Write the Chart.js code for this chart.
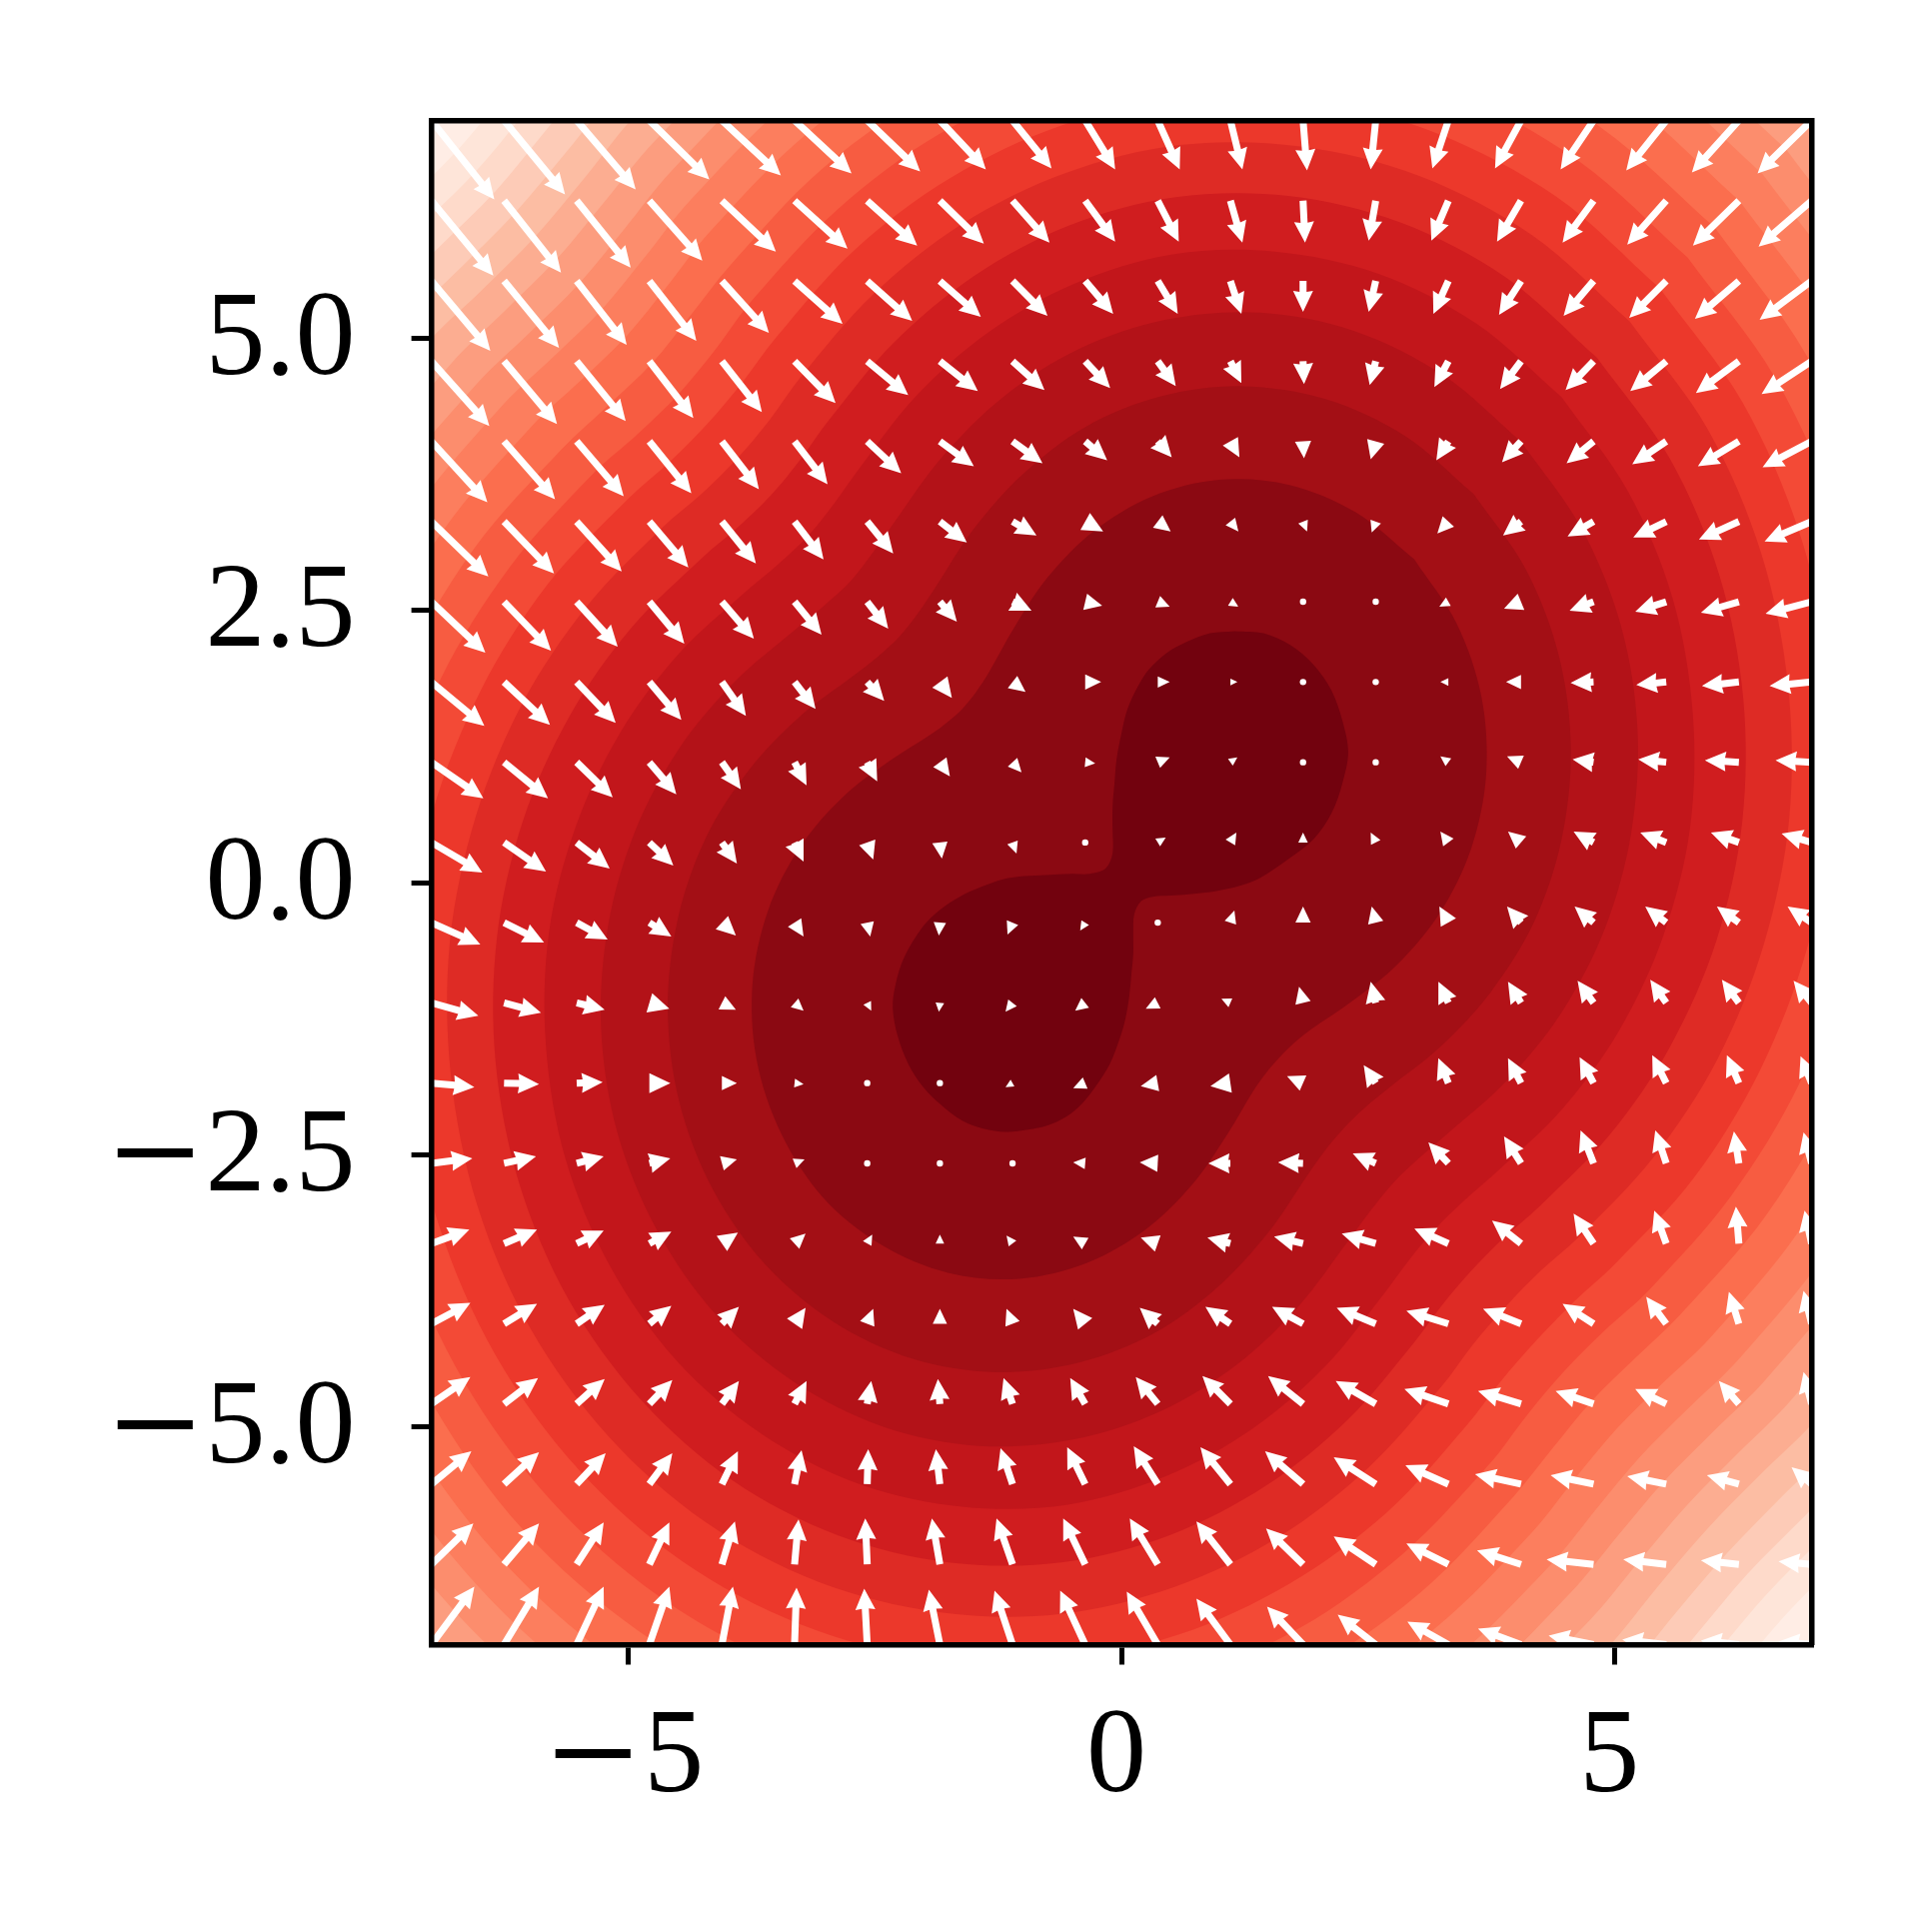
<!DOCTYPE html>
<html>
<head>
<meta charset="utf-8">
<style>
@font-face{font-family:"TickMinus";src:local("DejaVu Serif");unicode-range:U+2212}
html,body{margin:0;padding:0;background:#fff}
canvas{display:block}
</style>
<script src="https://cdn.jsdelivr.net/npm/chart.js@4/dist/chart.umd.js"></script>
</head>
<body>
<canvas id="c" width="1933" height="1933"></canvas>
<script>
const xTickValues = [-5, 0, 5];
const yTickValues = [-5, -2.5, 0, 2.5, 5];
const xTickLabels = ["\u22125", "0", "5"];
const yTickLabels = ["\u22125.0", "\u22122.5", "0.0", "2.5", "5.0"];

// quiver grid, left to right and top to bottom
const gridX = [-7,-6.263,-5.526,-4.789,-4.053,-3.316,-2.579,-1.842,-1.105,-0.368,0.368,1.105,1.842,2.579,3.316,4.053,4.789,5.526,6.263,7];
const gridY = [7,6.263,5.526,4.789,4.053,3.316,2.579,1.842,1.105,0.368,-0.368,-1.105,-1.842,-2.579,-3.316,-4.053,-4.789,-5.526,-6.263,-7];

const arrowU = [
[63,61,59,60,59,57,53,46,39,30,22,12,4,-5,-16,-26,-33,-40,-47,-54],
[62,57,54,53,54,53,50,44,37,30,21,12,2,-7,-17,-24,-31,-39,-46,-53],
[59,55,50,47,47,48,45,41,35,28,20,11,0,-7,-15,-22,-30,-37,-44,-52],
[58,53,49,44,40,41,41,38,32,25,18,11,1,-6,-14,-21,-28,-36,-43,-50],
[56,51,47,42,37,33,34,34,30,22,14,9,1,-5,-12,-19,-27,-34,-41,-49],
[57,50,45,39,34,29,26,27,24,18,13,8,4,-4,-11,-18,-26,-33,-40,-47],
[54,47,41,35,32,27,21,17,19,17,12,8,0,0,-9,-17,-24,-31,-38,-46],
[53,46,39,32,24,21,17,12,13,16,12,7,0,0,-8,-15,-23,-30,-37,-42],
[52,44,36,27,19,12,10,10,9,10,12,7,0,0,-8,-14,-21,-28,-34,-36],
[51,42,33,24,15,9,6,2,4,0,8,6,0,-5,-8,-13,-20,-26,-28,-30],
[49,40,31,22,14,9,3,-1,-5,-5,0,4,0,-4,-9,-14,-19,-21,-22,-24],
[47,37,28,20,14,9,4,-1,-7,-10,-12,-9,-4,-5,-10,-13,-16,-16,-17,-18],
[43,35,26,21,15,9,0,0,-7,-12,-17,-20,-16,-12,-10,-13,-14,-14,-12,-11],
[41,32,27,21,15,10,0,0,-6,-12,-18,-22,-25,-23,-20,-17,-13,-11,-5,-8],
[38,33,27,22,16,11,5,0,-6,-12,-17,-23,-29,-34,-34,-29,-20,-12,-3,-7],
[39,33,28,22,17,11,6,0,-6,-12,-18,-25,-31,-39,-42,-38,-31,-20,-10,-8],
[39,34,28,23,17,12,4,-2,-9,-15,-22,-28,-35,-40,-44,-43,-38,-31,-20,-8],
[40,35,29,23,16,7,1,-4,-12,-18,-24,-30,-38,-42,-43,-46,-43,-39,-32,-20],
[42,35,27,20,13,4,-2,-8,-16,-22,-28,-34,-37,-42,-42,-44,-47,-43,-38,-33],
[43,35,27,20,11,2,-3,-11,-18,-25,-31,-34,-36,-38,-41,-43,-45,-44,-38,-33]
];
const arrowV = [
[-79,-74,-69,-59,-55,-53,-51,-49,-48,-49,-49,-49,-50,-49,-48,-48,-49,-50,-52,-53],
[-75,-72,-67,-60,-51,-48,-45,-43,-42,-41,-41,-42,-42,-40,-40,-41,-42,-44,-45,-46],
[-70,-67,-64,-60,-52,-43,-40,-36,-35,-33,-33,-33,-31,-31,-33,-34,-35,-37,-38,-39],
[-65,-63,-60,-57,-51,-42,-34,-30,-29,-27,-25,-22,-23,-24,-26,-28,-29,-30,-32,-33],
[-61,-58,-55,-52,-48,-43,-32,-25,-22,-19,-16,-16,-17,-18,-19,-21,-22,-23,-25,-26],
[-55,-52,-50,-46,-42,-38,-32,-21,-14,-10,-10,-10,-10,-11,-12,-14,-15,-16,-18,-20],
[-51,-49,-45,-42,-37,-33,-27,-20,-9,-4,-5,-5,0,0,-5,-7,-9,-10,-11,-12],
[-44,-43,-41,-38,-34,-27,-19,-16,-10,0,0,0,0,0,0,0,-1,-3,-4,-4],
[-36,-36,-35,-32,-27,-23,-19,-14,-10,-1,5,5,0,0,6,6,3,3,2,2],
[-30,-29,-26,-23,-21,-19,-17,-16,-11,0,5,10,10,10,11,11,11,10,10,9],
[-22,-20,-17,-14,-13,-14,-14,-13,-12,-8,0,12,16,16,16,16,16,16,16,16],
[-13,-10,-7,-6,-7,-8,-8,-9,-9,-8,-6,4,16,21,21,21,22,23,23,22],
[-4,-1,1,0,0,-1,0,0,-4,-5,-3,-3,7,18,25,25,26,28,28,27],
[5,7,7,5,4,4,0,0,2,1,1,0,1,10,21,27,33,33,32,31],
[14,14,13,12,11,10,9,9,8,7,6,6,7,10,15,23,30,33,37,33],
[21,20,19,18,17,16,15,15,15,15,16,17,17,16,13,15,20,27,32,33],
[27,26,25,24,23,23,23,25,26,26,27,28,28,23,15,13,13,15,23,32],
[33,32,31,31,33,34,35,35,36,37,38,37,33,27,19,10,9,8,9,17],
[41,41,42,42,43,45,46,46,46,46,46,43,36,28,21,14,5,5,4,3],
[58,58,58,58,58,57,56,55,54,54,53,46,38,30,23,16,9,5,4,3]
];

// filled contour bands, darkest (inside) to lightest (corners)
const bandColors = ["#72020e","#8b0912","#a30f15","#b31218","#c2161b","#d01d1f","#de2b25","#ec382b","#f34a36","#f75c41","#fb6e4e","#fc7e5e","#fc8d6d","#fc9d7f","#fcad91","#fcbda3","#fdcbb7","#fedaca","#fee5d9","#ffede5"];

// innermost two-lobed contour
const lobeX = [1.15,1.44,1.715,1.95,2.13,2.24,2.30,2.24,2.13,1.95,1.70,1.40,1.20,0.95,0.76,0.50,0.32,0.20,0.13,0.12,0.12,0.10,0.08,0.04,-0.02,-0.12,-0.26,-0.40,-0.56,-0.75,-0.95,-1.17,-1.40,-1.61,-1.82,-2.01,-2.16,-2.27,-2.32,-2.29,-2.20,-2.01,-1.84,-1.64,-1.42,-1.20,-0.98,-0.76,-0.50,-0.32,-0.16,-0.09,-0.09,-0.09,-0.07,-0.05,0,0.06,0.16,0.28,0.46,0.66,0.90,1.15];
const lobeY = [2.31,2.29,2.18,2.00,1.765,1.49,1.20,0.91,0.635,0.40,0.22,0.04,-0.03,-0.08,-0.10,-0.12,-0.13,-0.17,-0.29,-0.45,-0.65,-0.85,-1.04,-1.25,-1.44,-1.67,-1.87,-2.03,-2.15,-2.23,-2.27,-2.29,-2.26,-2.19,-2.05,-1.88,-1.67,-1.41,-1.15,-0.93,-0.68,-0.40,-0.25,-0.13,-0.04,0.03,0.06,0.07,0.08,0.08,0.13,0.27,0.48,0.70,0.92,1.13,1.37,1.59,1.79,1.96,2.11,2.21,2.29,2.31];

// outer contours: distance from the origin, per angle away from the main diagonal
const contourAngles = [0,10,20,30,40,50,60,70,80,85,90];
const contourRadii = [
[4.20,4.15,4.03,3.83,3.56,3.24,2.90,2.58,2.35,2.29,2.27],
[5.05,5.01,4.90,4.72,4.48,4.20,3.88,3.57,3.30,3.22,3.19],
[5.73,5.69,5.59,5.42,5.19,4.92,4.62,4.31,4.03,3.94,3.90],
[6.31,6.27,6.17,6.00,5.79,5.52,5.23,4.93,4.64,4.54,4.50],
[6.82,6.79,6.69,6.53,6.32,6.06,5.77,5.47,5.18,5.07,5.03],
[7.29,7.26,7.16,7.00,6.80,6.54,6.26,5.96,5.67,5.55,5.51],
[7.72,7.69,7.59,7.44,7.23,6.98,6.70,6.41,6.11,5.99,5.95],
[8.12,8.09,8.00,7.84,7.64,7.39,7.12,6.82,6.53,6.40,6.35],
[8.51,8.47,8.38,8.23,8.03,7.78,7.51,7.22,6.92,6.80,6.74],
[8.86,8.83,8.74,8.59,8.39,8.15,7.87,7.58,7.29,7.16,7.10],
[9.20,9.17,9.08,8.93,8.73,8.49,8.22,7.93,7.64,7.51,7.45],
[9.53,9.50,9.41,9.26,9.07,8.83,8.56,8.27,7.97,7.84,7.78],
[9.85,9.82,9.73,9.58,9.38,9.15,8.88,8.59,8.29,8.16,8.10],
[10.15,10.12,10.03,9.88,9.69,9.45,9.18,8.89,8.60,8.46,8.40],
[10.44,10.41,10.32,10.18,9.98,9.75,9.48,9.20,8.90,8.76,8.70],
[10.72,10.69,10.60,10.46,10.27,10.03,9.77,9.48,9.19,9.05,8.98],
[11.00,10.97,10.88,10.73,10.54,10.31,10.04,9.76,9.46,9.32,9.25],
[11.26,11.23,11.14,11.00,10.81,10.57,10.31,10.03,9.73,9.59,9.52]
];
// the lower-left half of every outer contour sits slightly off the mirror of the upper-right half
const lowerHalfShift = {x: -0.05, y: 0.07};

function contourPoints(radii) {
  const pts = [];
  const n = contourAngles.length;
  [[45, 1, 0], [225, -1, 1], [225, 1, 1], [405, -1, 0]].forEach(([base, sign, lower]) => {
    for (let q = 0; q < n; q++) {
      const i = sign > 0 ? q : n - 1 - q;
      if (q === 0 && pts.length) continue;
      const deg = (base + sign * contourAngles[i]) * Math.PI / 180;
      const weight = lower * Math.cos(contourAngles[i] * Math.PI / 180);
      pts.push({x: radii[i] * Math.cos(deg) + weight * lowerHalfShift.x,
                y: radii[i] * Math.sin(deg) + weight * lowerHalfShift.y});
    }
  });
  return pts;
}

function bandDataset(points, color) {
  return {type: 'scatter', data: points, showLine: true, pointRadius: 0, borderWidth: 0,
    backgroundColor: color, borderColor: color, fill: 'shape', tension: 0.33, capBezierPoints: false};
}

const datasets = [];
datasets.push(bandDataset(lobeX.map((x, i) => ({x, y: lobeY[i]})), bandColors[0]));
contourRadii.forEach((radii, k) => datasets.push(bandDataset(contourPoints(radii), bandColors[k + 1])));
datasets.push(bandDataset([{x:-9,y:-9},{x:9,y:-9},{x:9,y:9},{x:-9,y:9}], bandColors[19]));
datasets[datasets.length - 1].tension = 0;

const ARROW = {width: 7, headLength: 21, headAxis: 20, headHalf: 10};

const quiverPlugin = {
  id: 'quiver',
  afterDatasetsDraw(chart) {
    const {ctx, chartArea: a, scales: {x: sx, y: sy}} = chart;
    ctx.save();
    ctx.beginPath();
    ctx.rect(a.left, a.top, a.right - a.left, a.bottom - a.top);
    ctx.clip();
    ctx.fillStyle = '#fff';
    gridY.forEach((gy, j) => gridX.forEach((gx, i) => {
      const px = sx.getPixelForValue(gx), py = sy.getPixelForValue(gy);
      const dx = arrowU[j][i], dy = -arrowV[j][i];
      const L = Math.hypot(dx, dy);
      ctx.beginPath();
      if (L < ARROW.width) {
        ctx.arc(px, py, 3.2, 0, Math.PI * 2);
      } else {
        const s = Math.min(1, L / ARROW.headLength);
        const hh = ARROW.headHalf * s, hl = ARROW.headLength * s;
        const ang = Math.atan2(dy, dx), c = Math.cos(ang), n = Math.sin(ang);
        let outline;
        if (L <= ARROW.headLength) {
          outline = [[0, hh], [L, 0], [0, -hh]];
        } else {
          const hw = ARROW.width / 2, ha = ARROW.headAxis;
          outline = [[0, hw], [L - ha, hw], [L - hl, hh], [L, 0], [L - hl, -hh], [L - ha, -hw], [0, -hw]];
        }
        outline.forEach(([u, v], q) => {
          const qx = px + u * c - v * n, qy = py + u * n + v * c;
          if (q === 0) ctx.moveTo(qx, qy); else ctx.lineTo(qx, qy);
        });
        ctx.closePath();
      }
      ctx.fill();
    }));
    ctx.restore();
  }
};

const FRAME = {left: 431.6, right: 1812.5, top: 120.5, bottom: 1645.5, size: 1933};
const tickFont = {family: '"TickMinus","Liberation Serif",serif', size: 120};
const blackBorder = {display: true, width: 5.5, color: '#000', z: 2};
const tickGrid = {display: true, drawOnChartArea: false, drawTicks: true, tickLength: 20, tickWidth: 5, tickColor: '#000', color: '#000', lineWidth: 5};
const noPadding = s => { s.paddingLeft = 0; s.paddingRight = 0; s.paddingTop = 0; s.paddingBottom = 0; };
const bareAxis = (position, axis) => ({type: 'linear', position, min: -7, max: 7, display: true,
  ticks: {display: false}, grid: {display: false}, border: blackBorder,
  afterFit: s => { noPadding(s); if (axis === 'x') s.height = FRAME.top; else s.width = FRAME.size - FRAME.right; }});

function draw() {
  new Chart(document.getElementById('c'), {
    data: {datasets},
    plugins: [quiverPlugin],
    options: {
      responsive: false, animation: false, events: [], devicePixelRatio: 1,
      layout: {padding: 0},
      plugins: {legend: {display: false}, tooltip: {enabled: false}, title: {display: false}},
      scales: {
        x: {type: 'linear', position: 'bottom', min: -7, max: 7, border: blackBorder, grid: tickGrid,
          afterBuildTicks: s => { s.ticks = xTickValues.map(value => ({value})); },
          afterFit: s => { noPadding(s); s.height = FRAME.size - FRAME.bottom; },
          ticks: {autoSkip: false, maxRotation: 0, minRotation: 0, padding: 23, labelOffset: -5, color: '#000', font: tickFont, z: 2,
            callback: v => xTickLabels[xTickValues.indexOf(v)]}},
        y: {type: 'linear', position: 'left', min: -7, max: 7, border: blackBorder, grid: tickGrid,
          afterBuildTicks: s => { s.ticks = yTickValues.map(value => ({value})); },
          afterFit: s => { noPadding(s); s.width = FRAME.left; },
          ticks: {autoSkip: false, padding: 56, labelOffset: 4, color: '#000', font: tickFont, z: 2,
            callback: v => yTickLabels[yTickValues.indexOf(v)]}},
        x2: bareAxis('top', 'x'),
        y2: bareAxis('right', 'y')
      }
    }
  });
}
document.fonts.load('120px TickMinus', '\u2212').then(draw, draw);
</script>
</body>
</html>
